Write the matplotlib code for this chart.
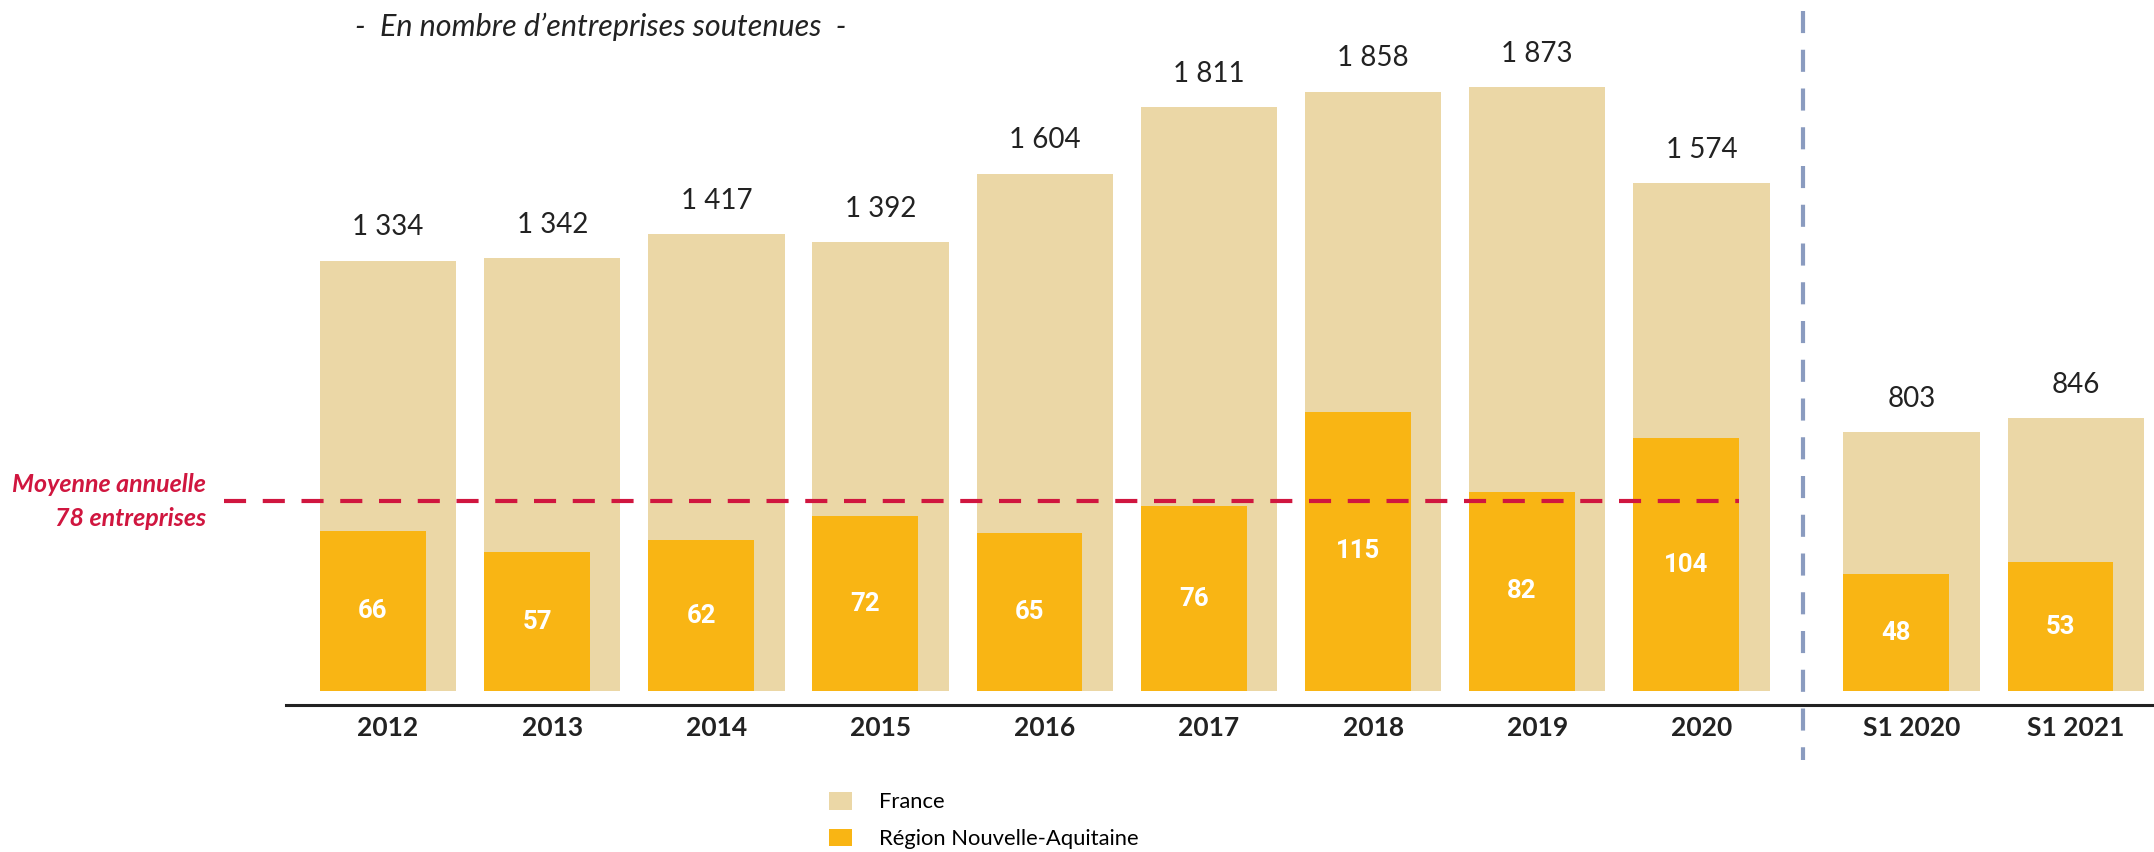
import matplotlib
matplotlib.use('Agg')
import matplotlib.pyplot as plt
from matplotlib.lines import Line2D
import numpy as np

categories = ['2012', '2013', '2014', '2015', '2016', '2017', '2018', '2019', '2020', 'S1 2020', 'S1 2021']
france = [1334, 1342, 1417, 1392, 1604, 1811, 1858, 1873, 1574, 803, 846]
region = [66, 57, 62, 72, 65, 76, 115, 82, 104, 48, 53]
france_labels = ['1 334', '1 342', '1 417', '1 392', '1 604', '1 811', '1 858', '1 873', '1 574', '803', '846']
average = 78

COLOR_FR = '#EBD7A6'
COLOR_REG = '#F9B514'
COLOR_RED = '#D0163F'
COLOR_SEP = '#8A9BBF'
COLOR_TXT = '#222222'
FONT = ['Lato', 'DejaVu Sans']

# x positions: yearly bars then a gap before the semester bars
x = np.array([0, 1, 2, 3, 4, 5, 6, 7, 8, 9.28, 10.28])
W_FR = 0.83
W_REG = 0.645

fig = plt.figure(figsize=(21.54, 8.52), dpi=100)
ax = fig.add_axes([0, 0, 1, 1])
ax2 = ax.twinx()

# pixel-based scaling: zero at 691px from top, France 0.3225 px/unit, region 2.43 px/unit
ax.set_xlim(-2.364, 10.757)
ax.set_ylim(-161 / 0.3225, 691 / 0.3225)
ax2.set_ylim(-161 / 2.43, 691 / 2.43)

ax.bar(x, france, width=W_FR, color=COLOR_FR, zorder=1, label='France')
ax2.bar(x - W_FR / 2, region, width=W_REG, align='edge', color=COLOR_REG, zorder=1,
        label='Région Nouvelle-Aquitaine')

for xi, v, lab in zip(x, france, france_labels):
    ax.annotate(lab, (xi, v), xytext=(0, 24), textcoords='offset points',
                ha='center', va='center', fontsize=20, family=FONT,
                fontweight='normal', color=COLOR_TXT)

for xi, v in zip(x, region):
    ax2.text(xi - W_FR / 2 + W_REG / 2, v / 2, str(v), ha='center', va='center',
             fontsize=18.5, family=['Roboto', 'DejaVu Sans'], fontweight='bold', color='white')

# category labels
for xi, c in zip(x, categories):
    ax.text(xi, -115, c, ha='center', va='center', fontsize=19,
            family=FONT, fontweight='bold', color=COLOR_TXT)

# average line
ax2.plot([-1.0, 8 - W_FR / 2 + W_REG], [average, average], color=COLOR_RED, lw=3,
         dashes=(5.3, 4.0), zorder=5)
fig.text(206 / 2154, 1 - 485 / 852, 'Moyenne annuelle', ha='right', va='center',
         fontsize=18, family=FONT, fontweight='bold', style='italic', color=COLOR_RED)
fig.text(206 / 2154, 1 - 519 / 852, '78 entreprises', ha='right', va='center',
         fontsize=18, family=FONT, fontweight='bold', style='italic', color=COLOR_RED)

# baseline and separator
fig.add_artist(Line2D([286 / 2154, 1], [1 - 705 / 852, 1 - 705 / 852], color=COLOR_TXT, lw=2.2))
fig.add_artist(Line2D([1803 / 2154, 1803 / 2154], [1 - 11 / 852, 1 - 760 / 852],
                      color=COLOR_SEP, lw=3, dashes=(5.3, 4.0)))

fig.text(601 / 2154, 1 - 27 / 852, '-  En nombre d\u2019entreprises soutenues  -', ha='center',
         va='center', fontsize=22, family=FONT, fontweight='normal',
         style='italic', color=COLOR_TXT)

h1, l1 = ax.get_legend_handles_labels()
h2, l2 = ax2.get_legend_handles_labels()
fig.legend(h1 + h2, l1 + l2, loc='upper left', bbox_to_anchor=(829 / 2154, 1 - 792 / 852),
           frameon=False, handlelength=1.05, handleheight=0.85,
           handletextpad=1.25, labelspacing=0.75, borderpad=0, borderaxespad=0,
           prop={'family': FONT, 'weight': 'normal', 'size': 15.8})

for a in (ax, ax2):
    a.axis('off')

fig.savefig('out.png', dpi=100)
